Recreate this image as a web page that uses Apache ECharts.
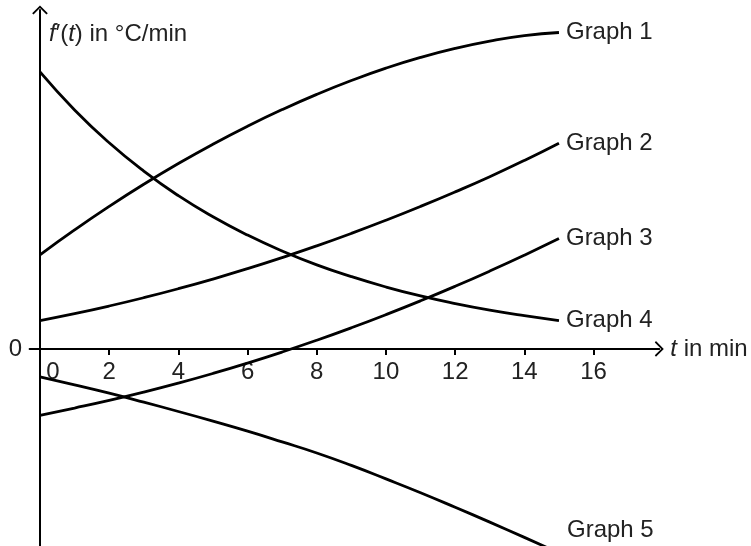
<!DOCTYPE html>
<html>
<head>
<meta charset="utf-8">
<script src="https://cdn.jsdelivr.net/npm/echarts@6/dist/echarts.min.js"></script>
<style>
  html, body { margin: 0; padding: 0; background: #fff; }
  #chart { width: 751px; height: 546px; }
</style>
</head>
<body>
<div id="chart"></div>
<script>
  // readings, t in minutes
  const tValues = [0, 1, 2, 3, 4, 5, 6, 7, 8, 9, 10, 11, 12, 13, 14, 15];
  const graph1 = [2.72, 3.44, 4.12, 4.76, 5.36, 5.92, 6.44, 6.92, 7.36, 7.76, 8.12, 8.43, 8.69, 8.9, 9.06, 9.15];
  const graph2 = [0.82, 1.02, 1.24, 1.48, 1.74, 2.02, 2.32, 2.64, 2.98, 3.34, 3.72, 4.12, 4.54, 4.98, 5.45, 5.95];
  const graph3 = [-1.92, -1.71, -1.49, -1.25, -0.99, -0.71, -0.41, -0.09, 0.25, 0.61, 0.99, 1.39, 1.81, 2.25, 2.71, 3.19];
  const graph4 = [8.01, 6.91, 5.96, 5.14, 4.43, 3.82, 3.29, 2.83, 2.43, 2.09, 1.79, 1.53, 1.31, 1.12, 0.96, 0.82];
  const graph5 = [-0.81, -1.04, -1.28, -1.54, -1.81, -2.09, -2.38, -2.69, -3.01, -3.37, -3.76, -4.16, -4.58, -5.01, -5.45, -5.9];
  const seriesNames = ['Graph 1', 'Graph 2', 'Graph 3', 'Graph 4', 'Graph 5'];
  const xTickValues = [0, 2, 4, 6, 8, 10, 12, 14, 16];
  const yTickValues = [0];

  const FONT = 'Liberation Sans, Arial, sans-serif';
  const SIZE = 24;
  const TEXT = '#222';
  const arrow = 'path://M0,8 L8,0 L16,8 L14.6,9.2 L8,2.6 L1.4,9.2 Z';

  document.addEventListener('DOMContentLoaded', function () {
    const chart = echarts.init(document.getElementById('chart'));

    const allValues = [graph1, graph2, graph3, graph4, graph5];
    const series = allValues.map((vals, i) => ({
      name: seriesNames[i],
      type: 'line',
      data: tValues.map((t, k) => [t, vals[k]]),
      smooth: true,
      symbol: 'none',
      clip: true,
      lineStyle: { color: '#000', width: 2.8 },
      endLabel: {
        show: i < 4,
        formatter: '{a}',
        distance: 7,
        fontFamily: FONT,
        fontSize: SIZE,
        color: TEXT
      }
    }));

    const grid = { left: 29.6, right: 91.7, top: 10, bottom: 0 };

    const option = {
      animation: false,
      grid: Object.assign({ containLabel: false, outerBoundsMode: 'none' }, grid),
      xAxis: {
        type: 'value',
        min: -0.3,
        max: 17.9,
        name: '{i|t} in min',
        nameLocation: 'end',
        nameGap: 11,
        nameTextStyle: {
          fontFamily: FONT,
          fontSize: SIZE,
          color: TEXT,
          align: 'left',
          verticalAlign: 'middle',
          rich: { i: { fontFamily: FONT, fontSize: SIZE, color: TEXT, fontStyle: 'italic' } }
        },
        axisLine: {
          onZero: false,
          symbol: ['none', arrow],
          symbolSize: [16, 9],
          lineStyle: { color: '#000', width: 2 }
        },
        axisTick: {
          show: true,
          length: 6,
          customValues: xTickValues.filter(v => v !== 0),
          lineStyle: { color: '#000', width: 2 }
        },
        axisLabel: {
          customValues: xTickValues,
          margin: 11,
          fontFamily: FONT,
          fontSize: SIZE,
          color: TEXT,
          formatter: v => (v === 0 ? '{z|0}' : String(v)),
          rich: { z: { fontFamily: FONT, fontSize: SIZE, color: TEXT, padding: [0, 0, 0, 26] } }
        },
        splitLine: { show: false }
      },
      yAxis: {
        type: 'value',
        min: -5.7,
        max: 9.8,
        name: '{i|f}′({i|t}) in °C/min',
        nameLocation: 'end',
        nameGap: -12,
        nameTextStyle: {
          fontFamily: FONT,
          fontSize: SIZE,
          color: TEXT,
          align: 'left',
          verticalAlign: 'top',
          padding: [0, 0, 0, 9],
          rich: { i: { fontFamily: FONT, fontSize: SIZE, color: TEXT, fontStyle: 'italic' } }
        },
        axisLine: {
          show: true,
          onZero: false,
          symbol: ['none', arrow],
          symbolSize: [16, 9],
          lineStyle: { color: '#000', width: 2 }
        },
        axisTick: { show: false },
        axisLabel: {
          customValues: yTickValues,
          margin: 18,
          fontFamily: FONT,
          fontSize: SIZE,
          color: TEXT
        },
        splitLine: { show: false }
      },
      graphic: [{
        type: 'text',
        left: 567,
        top: 518,
        style: {
          text: seriesNames[4],
          font: SIZE + 'px ' + FONT,
          fill: TEXT
        }
      }],
      series: series
    };

    chart.setOption(option);

    // move both axes (line, ticks and labels) onto the zero lines of the other axis
    const zero = chart.convertToPixel({ gridIndex: 0 }, [0, 0]);
    const gridBottomPx = chart.getHeight() - grid.bottom;
    chart.setOption({
      xAxis: { offset: -(gridBottomPx - zero[1]) },
      yAxis: { offset: -(zero[0] - grid.left) }
    });

    window.addEventListener('resize', () => { chart.resize(); });
  });
</script>
</body>
</html>
